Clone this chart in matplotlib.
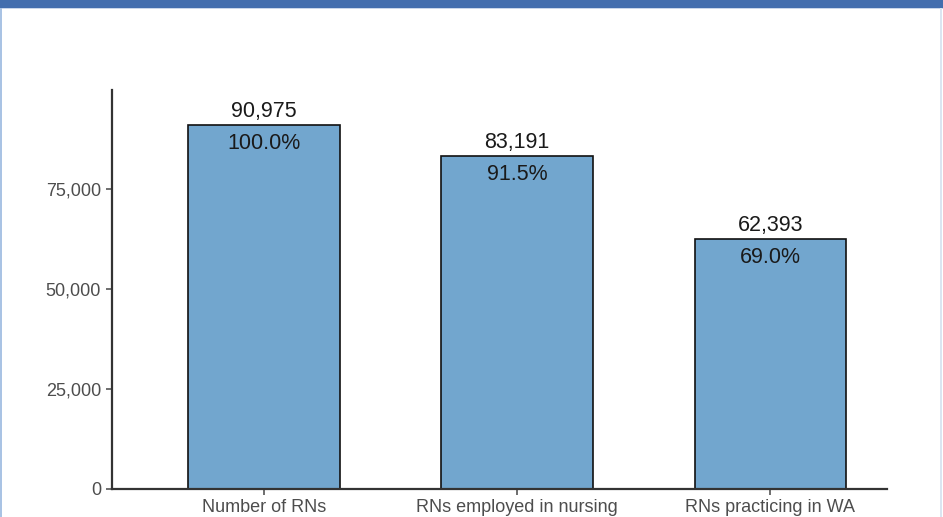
import matplotlib
matplotlib.use("Agg")
import matplotlib.pyplot as plt
from matplotlib.patches import Rectangle
import numpy as np

categories = ["Number of RNs", "RNs employed in nursing", "RNs practicing in WA"]
counts = [90975, 83191, 62393]
shares = ["100.0%", "91.5%", "69.0%"]
yticks = [0, 25000, 50000, 75000]

plt.rcParams["font.family"] = ["Liberation Sans", "DejaVu Sans"]

fig = plt.figure(figsize=(9.43, 5.17), dpi=100)
ax = fig.add_axes([0.1188, 0.0542, 0.8218, 0.7718])

x = np.arange(len(categories))
ax.bar(x, counts, width=0.6, color="#72a6ce", edgecolor="#111111", linewidth=1.2, zorder=2)

for xi, n, s in zip(x, counts, shares):
    ax.annotate(f"{n:,}", (xi, n), xytext=(0, 2.5), textcoords="offset points",
                ha="center", va="bottom", fontsize=15.5, color="#1a1a1a")
    ax.annotate(s, (xi, n), xytext=(0, -5.5), textcoords="offset points",
                ha="center", va="top", fontsize=15.5, color="#1a1a1a")

ax.set_xlim(-0.6, 2.46)
ax.set_ylim(0, 99750)
ax.set_xticks(x)
ax.set_xticklabels(categories)
ax.set_yticks(yticks)
ax.set_yticklabels([f"{v:,}" for v in yticks])
ax.tick_params(axis="both", labelsize=13, colors="#555555", labelcolor="#4d4d4d",
               length=4, width=1.2, pad=3)
ax.tick_params(axis="y", pad=4)

for side in ["top", "right"]:
    ax.spines[side].set_visible(False)
for side in ["left", "bottom"]:
    ax.spines[side].set_color("#333333")
    ax.spines[side].set_linewidth(1.6)

# frame: dark blue band on top, thin pale borders on the sides
fig.add_artist(Rectangle((0, 1 - 7.5 / 517), 1, 7.5 / 517, transform=fig.transFigure,
                         facecolor="#436eae", edgecolor="none"))
fig.add_artist(Rectangle((0, 1 - 9 / 517), 1, 1.5 / 517, transform=fig.transFigure,
                         facecolor="#c9d6ea", edgecolor="none"))
fig.add_artist(Rectangle((0, 0), 2 / 943, 1 - 7.5 / 517, transform=fig.transFigure,
                         facecolor="#a9c3e4", edgecolor="none"))
fig.add_artist(Rectangle((1 - 3 / 943, 0), 1.5 / 943, 1 - 7.5 / 517, transform=fig.transFigure,
                         facecolor="#dbe5f1", edgecolor="none"))

fig.savefig("out.png", dpi=100)
